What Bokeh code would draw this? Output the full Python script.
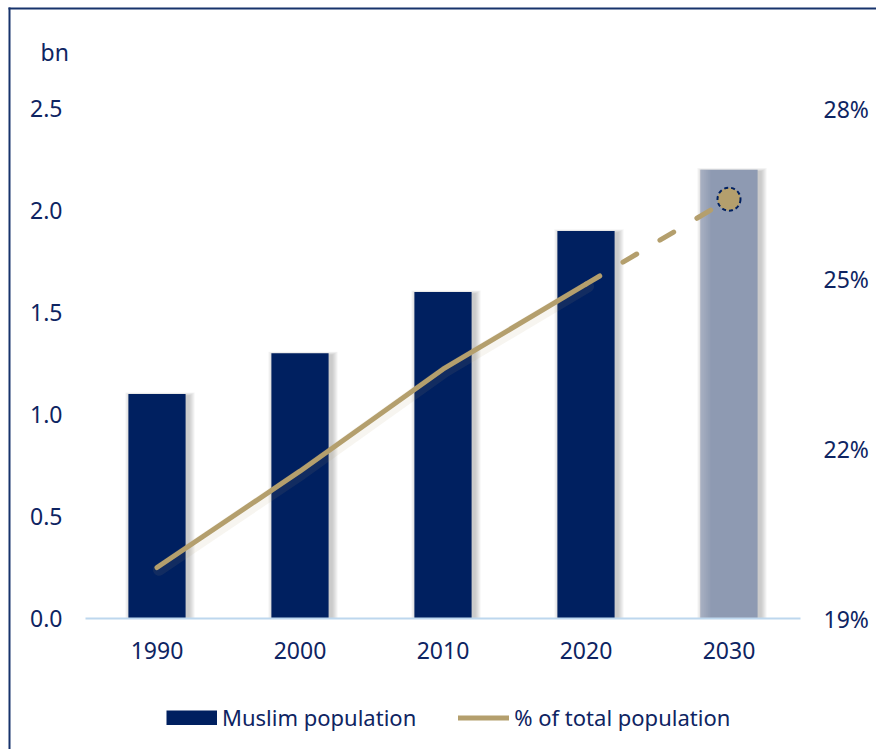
from bokeh.plotting import figure
from bokeh.models import (Range1d, LinearAxis, FixedTicker, Legend, LegendItem,
                          ColumnDataSource, Label, BoxAnnotation)
from bokeh.embed import file_html
from bokeh.resources import INLINE

# ---- data ----
years = ["1990", "2000", "2010", "2020", "2030"]
population_bn = [1.1, 1.3, 1.6, 1.9, 2.2]
share_pct = [19.9, 21.6, 23.4, 24.9, 26.4]
left_ticks = [0.0, 0.5, 1.0, 1.5, 2.0, 2.5]
left_tick_labels = ["0.0", "0.5", "1.0", "1.5", "2.0", "2.5"]
right_ticks = [19, 22, 25, 28]
right_tick_labels = ["19%", "22%", "25%", "28%"]

# ---- styles / layout (pixels) ----
NAVY = "#002060"
PROJ = "#8E9AB2"
TAN = "#B49F6D"
TEXT = "#0E2462"
FRAME = "#17336C"
FONT = "Noto Sans"
bar_colors = [NAVY, NAVY, NAVY, NAVY, PROJ]

W, H = 876, 749
PL, PR, PT, PB = 85, 800, 108, 618        # plot area edges in canvas px

n = len(years)
xs = list(range(1, n + 1))
ppx = (PR - PL) / n                        # px per category
ppy = (PB - PT) / left_ticks[-1]           # px per bn
ppp = (PB - PT) / (right_ticks[-1] - right_ticks[0])  # px per %

x_range = Range1d(0.5 - PL / ppx, n + 0.5 + (W - PR) / ppx)
y_range = Range1d(-(H - PB) / ppy, left_ticks[-1] + PT / ppy)
pct_range = Range1d(right_ticks[0] - (H - PB) / ppp, right_ticks[-1] + PT / ppp)

p = figure(width=W, height=H, x_range=x_range, y_range=y_range,
           output_backend="svg", toolbar_location=None,
           min_border=0, min_border_left=0, min_border_right=0,
           min_border_top=0, min_border_bottom=0)
p.outline_line_color = None
p.grid.grid_line_color = None
p.background_fill_color = "white"
p.border_fill_color = "white"
p.extra_y_ranges = {"pct": pct_range}

src = ColumnDataSource(dict(x=xs, pop=population_bn, color=bar_colors, pct=share_pct))

px_x = 1 / ppx
px_y = 1 / ppy
BW = 0.4

# bar shadows (soft, offset right/down)
for k in range(1, 7):
    p.vbar(x=[v + 3 * px_x for v in xs],
           top=[v - 2 * px_y + k * px_y * 0.6 for v in population_bn],
           width=BW + 2 * k * px_x, bottom=0, fill_color="#6F6F6F",
           fill_alpha=0.07, line_color=None)

bars = p.vbar(x="x", top="pop", width=BW, bottom=0, source=src,
              fill_color="color", line_color=None)

# lighter sheen on the left edge of the projected bar
for k in range(1, 6):
    p.vbar(x=[xs[-1] - BW / 2 + k * px_x], top=[population_bn[-1]],
           width=2 * k * px_x, bottom=0, fill_color="white", fill_alpha=0.05,
           line_color=None)

# line glow
p.line(x=[v + 2 * px_x for v in xs[:4]], y=[v - 0.04 for v in share_pct[:4]],
       y_range_name="pct", line_color=TAN, line_width=12, line_alpha=0.10,
       line_cap="round")
solid = p.line(x=xs[:4], y=share_pct[:4], y_range_name="pct", line_color=TAN,
               line_width=5, line_cap="round", line_join="round")
p.line(x=xs[3:], y=share_pct[3:], y_range_name="pct", line_color=TAN,
       line_width=5, line_cap="round", line_dash="16 27")
p.scatter(x=xs[4:], y=share_pct[4:], y_range_name="pct", size=23, marker="circle",
          fill_color=TAN, line_color=NAVY, line_width=2, line_dash="4 3")

# axes (fixed inside the full-canvas frame)
xa = p.xaxis[0]
xa.fixed_location = 0
xa.bounds = (0.5, n + 0.5)
xa.ticker = FixedTicker(ticks=xs)
xa.major_label_overrides = {x: y for x, y in zip(xs, years)}
xa.axis_line_color = "#BDD7EE"
xa.axis_line_width = 2
xa.major_label_standoff = 17

ya = p.yaxis[0]
ya.fixed_location = 0.5
ya.ticker = FixedTicker(ticks=left_ticks)
ya.major_label_overrides = {t: l for t, l in zip(left_ticks, left_tick_labels)}
ya.axis_line_color = None
ya.major_label_standoff = 17

raxis = LinearAxis(y_range_name="pct", ticker=FixedTicker(ticks=right_ticks),
                   major_label_overrides={t: l for t, l in zip(right_ticks, right_tick_labels)})
raxis.fixed_location = n + 0.5
raxis.axis_line_color = None
raxis.major_label_standoff = 17
p.add_layout(raxis, "right")

for ax in [xa, ya, raxis]:
    ax.major_tick_line_color = None
    ax.minor_tick_line_color = None
    ax.major_label_text_font = FONT
    ax.major_label_text_font_size = "23px"
    ax.major_label_text_color = TEXT

# unit label
p.add_layout(Label(x=40, y=H - 51, x_units="screen", y_units="screen", text="bn",
                   text_font=FONT, text_font_size="23px", text_color=TEXT,
                   text_baseline="alphabetic"))

# panel frame: left and top edges as thin filled strips
p.add_layout(BoxAnnotation(left=8, right=10, top=H - 7, bottom=-200,
                           left_units="screen", right_units="screen",
                           top_units="screen", bottom_units="screen",
                           fill_color=FRAME, fill_alpha=1.0, line_color=None,
                           level="overlay"))
p.add_layout(BoxAnnotation(left=8, right=W + 200, top=H - 7, bottom=H - 9,
                           left_units="screen", right_units="screen",
                           top_units="screen", bottom_units="screen",
                           fill_color=FRAME, fill_alpha=1.0, line_color=None,
                           level="overlay"))

# legend (bar swatch via a line proxy so it fills the glyph box)
proxy = p.line(x=[float("nan")], y=[float("nan")], line_color=NAVY,
               line_width=15, line_cap="butt")
legend = Legend(items=[LegendItem(label="Muslim population", renderers=[proxy]),
                       LegendItem(label="% of total population", renderers=[solid])],
                orientation="horizontal", location=(166, 17), glyph_width=51,
                glyph_height=15, spacing=42, label_standoff=5,
                label_text_font=FONT, label_text_font_size="22px",
                label_text_color=TEXT, border_line_color=None,
                background_fill_alpha=0, margin=0, padding=4)
p.add_layout(legend)

open("out.html", "w").write(file_html(p, INLINE))
